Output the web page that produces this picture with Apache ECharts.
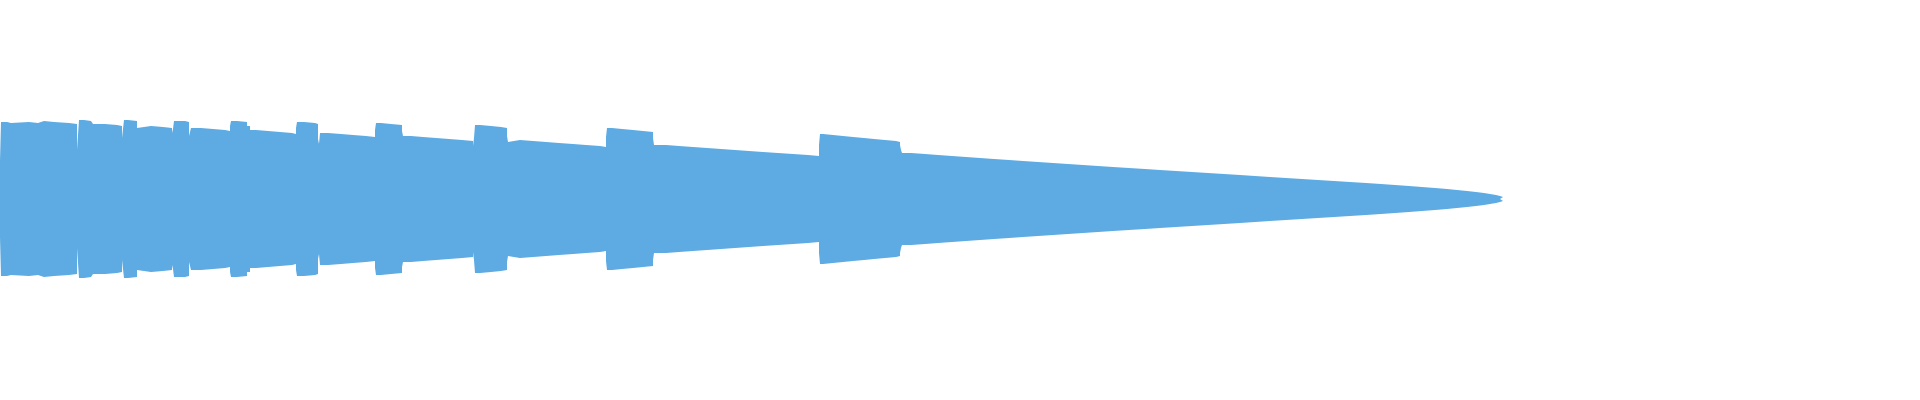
<!DOCTYPE html>
<html>
<head>
<meta charset="utf-8">
<script src="https://cdn.jsdelivr.net/npm/echarts@6/dist/echarts.min.js"></script>
<style>
  html, body { margin: 0; padding: 0; background: #ffffff; }
  #chart { width: 1920px; height: 400px; }
</style>
</head>
<body>
<div id="chart"></div>
<script>
// envelope of the waveform: start position of each step and its half-height
let positions = [
  0, 1, 7, 11, 13, 29, 38, 44, 54, 69, 77, 78, 79, 84, 91, 93, 105, 117,
  122, 123, 124, 128, 137, 138, 139, 151, 163, 172, 173, 174, 185, 189, 190, 191,
  201, 213, 225, 230, 231, 237, 247, 250, 256, 268, 280, 292, 296, 297, 304, 315, 318,
  319, 320, 328, 341, 353, 366, 375, 376, 381, 391, 402, 403, 411, 423, 436, 449, 462, 473,
  474, 475, 480, 491, 501, 507, 508, 509, 520, 533, 546, 559, 573, 586, 600, 606, 607, 612,
  622, 633, 643, 653, 654, 666, 679, 693, 707, 721, 735, 749, 763, 778, 793, 808, 819, 820,
  823, 833, 843, 853, 864, 874, 885, 896, 900, 901, 902, 911, 925, 938, 952, 966, 980, 994,
  1009, 1023, 1038, 1053, 1068, 1083, 1098, 1113, 1129, 1145, 1160, 1176, 1192, 1208, 1224,
  1240, 1255, 1270, 1286, 1302, 1318, 1334, 1350, 1366, 1381, 1395, 1409, 1422, 1435, 1447,
  1457, 1467, 1476, 1484, 1490, 1496, 1500, 1503, 1504
];
let amplitude = [
  38, 77, 76, 78, 77, 76, 78, 77, 76, 75, 49, 51, 79, 78, 77, 75, 74, 73,
  61, 62, 79, 78, 71, 69, 73, 72, 71, 66, 70, 78, 77, 63, 61, 71,
  70, 69, 68, 73, 78, 77, 73, 69, 68, 67, 66, 65, 71, 77, 76, 75, 60,
  55, 66, 65, 64, 63, 62, 69, 76, 75, 74, 68, 63, 62, 61, 60, 59, 58, 53,
  61, 74, 73, 72, 71, 63, 57, 59, 58, 57, 56, 55, 54, 53, 52, 62, 71, 70,
  69, 68, 67, 61, 54, 53, 52, 51, 50, 49, 48, 47, 46, 45, 44, 43, 54, 65,
  64, 63, 62, 61, 60, 59, 58, 57, 54, 49, 46, 45, 44, 43, 42, 41, 40, 39,
  38, 37, 36, 35, 34, 33, 32, 31, 30, 29, 28, 27, 26, 25, 24,
  23, 22, 21, 20, 19, 18, 17, 16, 15, 14, 13, 12, 11, 10, 9,
  8, 7, 6, 5, 4, 3, 2, 1, 0
];

// each level holds until the next position (flat steps)
function stepPoints(sign) {
  let pts = [];
  positions.forEach((p, i) => {
    let v = sign * amplitude[i];
    pts.push([p, v]);
    if (i < positions.length - 1) pts.push([positions[i + 1], v]);
  });
  return pts;
}

let color = '#5dabe2';
let chart = echarts.init(document.getElementById('chart'));

chart.setOption({
  animation: false,
  grid: { left: 0, right: 0, top: 0, bottom: 0 },
  xAxis: { type: 'value', min: 0, max: 1920, show: false },
  yAxis: { type: 'value', min: -201, max: 199, show: false },
  series: [
    {
      type: 'line',
      data: stepPoints(1),
      symbol: 'none',
      silent: true,
      lineStyle: { color: 'rgba(0,0,0,0)', width: 0, opacity: 0 },
      areaStyle: { color: color, opacity: 1, origin: 0 }
    },
    {
      type: 'line',
      data: stepPoints(-1),
      symbol: 'none',
      silent: true,
      lineStyle: { color: 'rgba(0,0,0,0)', width: 0, opacity: 0 },
      areaStyle: { color: color, opacity: 1, origin: 0 }
    }
  ]
});
</script>
</body>
</html>
